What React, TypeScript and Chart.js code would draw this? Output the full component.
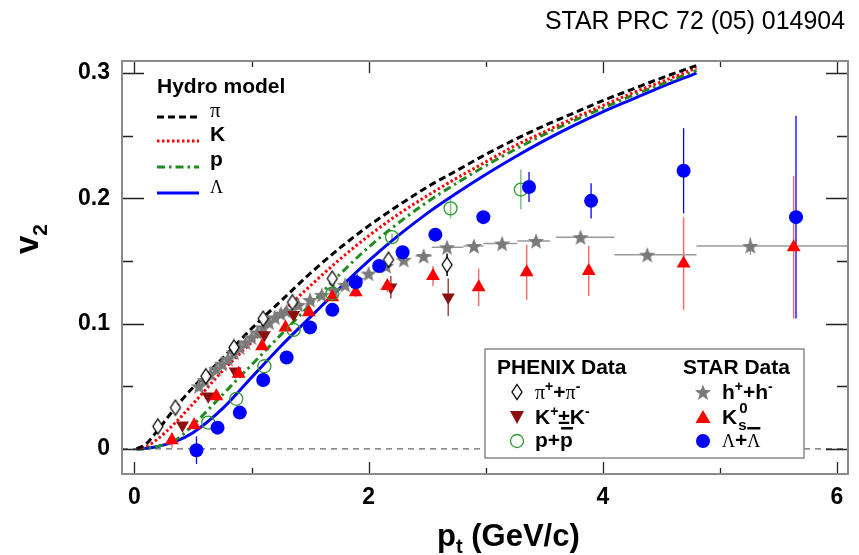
import { useEffect, useRef } from "react";
import { Chart, registerables } from "chart.js";
Chart.register(...registerables);

// ---------------- data ----------------
const hydroPt = [0.02, 0.1, 0.2, 0.35, 0.5, 0.75, 1.0, 1.25, 1.5, 1.75, 2.0, 2.25, 2.5, 2.75, 3.0, 3.25, 3.5, 3.75, 4.0, 4.25, 4.5, 4.8];
const hydroPi = [0, 0.004, 0.015, 0.033, 0.049, 0.072, 0.096, 0.118, 0.140, 0.160, 0.178, 0.194, 0.209, 0.222, 0.235, 0.247, 0.258, 0.268, 0.278, 0.287, 0.296, 0.306];
const hydroK = [0, 0.002, 0.008, 0.021, 0.036, 0.062, 0.085, 0.108, 0.130, 0.151, 0.170, 0.187, 0.202, 0.216, 0.229, 0.242, 0.253, 0.264, 0.274, 0.284, 0.293, 0.304];
const hydroP = [0, 0.0005, 0.002, 0.007, 0.019, 0.043, 0.067, 0.091, 0.115, 0.139, 0.161, 0.180, 0.197, 0.212, 0.226, 0.239, 0.251, 0.262, 0.272, 0.282, 0.291, 0.302];
const hydroL = [0, 0.0005, 0.002, 0.006, 0.013, 0.032, 0.057, 0.082, 0.105, 0.128, 0.150, 0.170, 0.188, 0.204, 0.219, 0.233, 0.246, 0.258, 0.269, 0.279, 0.289, 0.300];

const phenixPiPt = [0.20, 0.35, 0.61, 0.85, 1.10, 1.35, 1.69, 2.17, 2.67];
const phenixPiV2 = [0.018, 0.033, 0.058, 0.081, 0.104, 0.117, 0.136, 0.151, 0.147];
const phenixPiErr = [0, 0, 0, 0, 0, 0, 0.002, 0.004, 0.009];

const phenixKPt = [0.41, 0.63, 0.86, 1.11, 1.36, 2.19, 2.68];
const phenixKV2 = [0.019, 0.042, 0.062, 0.091, 0.107, 0.129, 0.121];
const phenixKErr = [0, 0, 0, 0, 0, 0.009, 0.015];

const phenixPPt = [0.63, 0.87, 1.11, 1.36, 1.69, 2.20, 2.70, 3.30];
const phenixPV2 = [0.021, 0.040, 0.066, 0.095, 0.124, 0.169, 0.192, 0.207];
const phenixPErr = [0, 0, 0, 0, 0, 0.003, 0.008, 0.016];

const starHPt = [0.55, 0.60, 0.65, 0.70, 0.75, 0.80, 0.85, 0.90, 0.95, 1.00, 1.05, 1.10, 1.15, 1.20, 1.25, 1.30, 1.40, 1.50, 1.60, 1.70, 1.80, 1.90, 2.00, 2.15, 2.30, 2.47, 2.67, 2.90, 3.14, 3.43, 3.81, 4.38, 5.26];
const starHV2 = [0.050, 0.055, 0.060, 0.064, 0.068, 0.072, 0.077, 0.081, 0.085, 0.089, 0.093, 0.097, 0.101, 0.105, 0.108, 0.110, 0.115, 0.119, 0.123, 0.127, 0.131, 0.135, 0.140, 0.146, 0.151, 0.154, 0.161, 0.162, 0.164, 0.166, 0.169, 0.155, 0.162];
const starHBinLo = [0.55, 0.60, 0.65, 0.70, 0.75, 0.80, 0.85, 0.90, 0.95, 1.00, 1.05, 1.10, 1.15, 1.20, 1.25, 1.30, 1.40, 1.50, 1.60, 1.70, 1.80, 1.90, 2.00, 2.15, 2.30, 2.40, 2.54, 2.81, 2.98, 3.27, 3.60, 4.10, 4.80];
const starHBinHi = [0.55, 0.60, 0.65, 0.70, 0.75, 0.80, 0.85, 0.90, 0.95, 1.00, 1.05, 1.10, 1.15, 1.20, 1.25, 1.30, 1.40, 1.50, 1.60, 1.70, 1.80, 1.90, 2.00, 2.15, 2.30, 2.54, 2.81, 2.98, 3.27, 3.55, 4.10, 4.80, 6.20];
const starHErr = [0, 0, 0, 0, 0, 0, 0, 0, 0, 0, 0, 0, 0, 0, 0, 0, 0, 0, 0, 0, 0, 0, 0, 0, 0, 0, 0, 0, 0, 0, 0, 0, 0.007];

const starK0Pt = [0.32, 0.51, 0.70, 0.89, 1.09, 1.29, 1.49, 1.69, 1.89, 2.16, 2.55, 2.94, 3.35, 3.88, 4.69, 5.63];
const starK0V2 = [0.007, 0.019, 0.042, 0.060, 0.082, 0.097, 0.109, 0.121, 0.125, 0.130, 0.138, 0.129, 0.141, 0.142, 0.148, 0.161];
const starK0Err = [0.006, 0.003, 0.003, 0.003, 0.003, 0.003, 0.003, 0.003, 0.004, 0.005, 0.008, 0.015, 0.022, 0.020, 0.037, 0.057];

const starLPt = [0.53, 0.71, 0.90, 1.10, 1.30, 1.50, 1.69, 1.89, 2.09, 2.29, 2.57, 2.98, 3.37, 3.90, 4.69, 5.65];
const starLV2 = [-0.001, 0.017, 0.029, 0.055, 0.073, 0.097, 0.111, 0.133, 0.146, 0.157, 0.171, 0.185, 0.209, 0.198, 0.222, 0.185];
const starLErr = [0.011, 0.003, 0.003, 0.003, 0.003, 0.003, 0.003, 0.003, 0.003, 0.003, 0.003, 0.004, 0.012, 0.014, 0.034, 0.081];

const xMajorTicks = [0, 2, 4, 6];
const xMinorTicks = [1, 3, 5];
const yMajorTicks = [0, 0.1, 0.2, 0.3];
const yMinorTicks = [0.05, 0.15, 0.25];
const zeroLine = [-0.106, 6.094];

// ---------------- markers ----------------
function starPath(ctx: CanvasRenderingContext2D, cx: number, cy: number, ro: number, ri: number) {
  ctx.beginPath();
  for (let i = 0; i < 10; i++) {
    const r = i % 2 === 0 ? ro : ri;
    const a = -Math.PI / 2 + (i * Math.PI) / 5;
    const px = cx + r * Math.cos(a);
    const py = cy + r * Math.sin(a);
    if (i === 0) ctx.moveTo(px, py);
    else ctx.lineTo(px, py);
  }
  ctx.closePath();
}
function makeStar(): HTMLCanvasElement {
  const c = document.createElement("canvas");
  c.width = 18; c.height = 18;
  const g = c.getContext("2d")!;
  starPath(g, 9, 9.8, 8.5, 3.6);
  g.fillStyle = "#7a7a7a";
  g.fill();
  return c;
}
function diamondPath(ctx: CanvasRenderingContext2D, cx: number, cy: number, hw: number, hh: number) {
  ctx.beginPath();
  ctx.moveTo(cx, cy - hh);
  ctx.lineTo(cx + hw, cy);
  ctx.lineTo(cx, cy + hh);
  ctx.lineTo(cx - hw, cy);
  ctx.closePath();
}
function makeDiamond(): HTMLCanvasElement {
  const c = document.createElement("canvas");
  c.width = 14; c.height = 18;
  const g = c.getContext("2d")!;
  diamondPath(g, 7, 9, 5, 7.5);
  g.fillStyle = "#ffffff";
  g.fill();
  g.strokeStyle = "#000000";
  g.lineWidth = 1.3;
  g.stroke();
  return c;
}

const SANS = '"Liberation Sans", Arial, Helvetica, sans-serif';
const SERIF = '"Liberation Serif", "DejaVu Serif", "Times New Roman", serif';

function pts(xs: number[], ys: number[]) {
  return xs.map((x, i) => ({ x, y: ys[i] }));
}

type Part = [string, string, number];
function rich(ctx: CanvasRenderingContext2D, x: number, y: number, parts: Part[]) {
  let cx = x;
  for (const [t, f, dy] of parts) {
    ctx.font = f;
    ctx.fillText(t, cx, y + dy);
    cx += ctx.measureText(t).width;
  }
  return cx;
}

const errorBarPlugin = {
  id: "errbars",
  beforeDatasetsDraw(chart: any) {
    const { ctx, chartArea } = chart;
    const xs = chart.scales.x;
    const ys = chart.scales.y;
    ctx.save();
    ctx.beginPath();
    ctx.rect(chartArea.left, chartArea.top, chartArea.right - chartArea.left, chartArea.bottom - chartArea.top);
    ctx.clip();
    chart.data.datasets.forEach((ds: any) => {
      if (!ds.errY && !ds.xLo) return;
      ctx.strokeStyle = ds.errColor || "#000";
      ctx.lineWidth = ds.errWidth || 1.5;
      ds.data.forEach((p: any, i: number) => {
        const px = xs.getPixelForValue(p.x);
        const py = ys.getPixelForValue(p.y);
        ctx.beginPath();
        if (ds.errY && ds.errY[i] > 0) {
          ctx.moveTo(px, ys.getPixelForValue(p.y - ds.errY[i]));
          ctx.lineTo(px, ys.getPixelForValue(p.y + ds.errY[i]));
        }
        if (ds.xLo && ds.xHi[i] > ds.xLo[i]) {
          ctx.moveTo(xs.getPixelForValue(ds.xLo[i]), py);
          ctx.lineTo(xs.getPixelForValue(ds.xHi[i]), py);
        }
        ctx.stroke();
      });
    });
    ctx.restore();
  },
};

const framePlugin = {
  id: "frame",
  afterDraw(chart: any) {
    const { ctx, chartArea } = chart;
    const xs = chart.scales.x;
    const ys = chart.scales.y;
    const L = chartArea.left, R = chartArea.right, T = chartArea.top, B = chartArea.bottom;
    ctx.save();
    // ticks
    ctx.strokeStyle = "#222";
    ctx.lineWidth = 1.3;
    ctx.beginPath();
    xMajorTicks.forEach((v) => {
      const px = Math.round(xs.getPixelForValue(v)) + 0.5;
      ctx.moveTo(px, B); ctx.lineTo(px, B - 12);
      ctx.moveTo(px, T); ctx.lineTo(px, T + 12);
    });
    xMinorTicks.forEach((v) => {
      const px = Math.round(xs.getPixelForValue(v)) + 0.5;
      ctx.moveTo(px, B); ctx.lineTo(px, B - 6);
      ctx.moveTo(px, T); ctx.lineTo(px, T + 6);
    });
    yMajorTicks.forEach((v) => {
      const py = Math.round(ys.getPixelForValue(v)) + 0.5;
      ctx.moveTo(L, py); ctx.lineTo(L + 22, py);
      ctx.moveTo(R, py); ctx.lineTo(R - 22, py);
    });
    yMinorTicks.forEach((v) => {
      const py = Math.round(ys.getPixelForValue(v)) + 0.5;
      ctx.moveTo(L, py); ctx.lineTo(L + 11, py);
      ctx.moveTo(R, py); ctx.lineTo(R - 11, py);
    });
    ctx.stroke();
    // frame
    ctx.strokeStyle = "#8a8a8a";
    ctx.lineWidth = 2;
    ctx.strokeRect(L, T, R - L, B - T);

    ctx.fillStyle = "#000";
    ctx.textBaseline = "alphabetic";
    ctx.textAlign = "left";

    // top right reference
    ctx.font = `25px ${SANS}`;
    ctx.textAlign = "right";
    ctx.fillText("STAR PRC 72 (05) 014904", 845, 29, 300);
    ctx.textAlign = "left";

    // axis titles
    rich(ctx, 437, 546, [["p", `bold 31px ${SANS}`, 0], ["t", `bold 20px ${SANS}`, 7], [" (GeV/c)", `bold 31px ${SANS}`, 0]]);
    ctx.save();
    ctx.translate(38, 254);
    ctx.rotate(-Math.PI / 2);
    rich(ctx, 0, 0, [["v", `bold 33px ${SANS}`, 0], ["2", `bold 21px ${SANS}`, 9]]);
    ctx.restore();

    // hydro legend
    ctx.font = `bold 21px ${SANS}`;
    ctx.fillText("Hydro model", 157, 93);
    const hx0 = 157, hx1 = 199;
    const hydroRows: { y: number; color: string; dash: number[]; w: number; label: Part[] }[] = [
      { y: 117, color: "#000", dash: [7, 4], w: 3, label: [["\u03c0", `21px ${SERIF}`, 0]] },
      { y: 141, color: "#ff0000", dash: [2.5, 2.5], w: 3, label: [["K", `bold 21px ${SANS}`, 0]] },
      { y: 167, color: "#1e8c1e", dash: [8, 4, 2.5, 4], w: 3, label: [["p", `bold 21px ${SANS}`, -1]] },
      { y: 193, color: "#0000ff", dash: [], w: 3, label: [["\u039b", `18px ${SERIF}`, 0]] },
    ];
    hydroRows.forEach((r) => {
      ctx.save();
      ctx.strokeStyle = r.color;
      ctx.lineWidth = r.w;
      ctx.setLineDash(r.dash);
      ctx.beginPath();
      ctx.moveTo(hx0, r.y); ctx.lineTo(hx1, r.y);
      ctx.stroke();
      ctx.restore();
      ctx.fillStyle = "#000";
      rich(ctx, 210, r.y, r.label);
    });

    // data legend box
    ctx.fillStyle = "#fff";
    ctx.fillRect(485, 349, 319, 109);
    ctx.strokeStyle = "#8a8a8a";
    ctx.lineWidth = 1.5;
    ctx.strokeRect(485, 349, 319, 109);
    ctx.fillStyle = "#000";
    ctx.font = `bold 21px ${SANS}`;
    ctx.fillText("PHENIX Data", 497, 374);
    ctx.fillText("STAR Data", 683, 374);

    const B21 = `bold 21px ${SANS}`;
    const B13 = `bold 14px ${SANS}`;
    const S20 = `20px ${SERIF}`;
    const S18 = `18px ${SERIF}`;
    const r1 = 399, r2 = 424, r3 = 448;
    // diamond
    diamondPath(ctx, 517, 392, 5, 7.5);
    ctx.strokeStyle = "#000"; ctx.lineWidth = 1.3; ctx.stroke();
    ctx.fillStyle = "#000";
    rich(ctx, 535, r1, [["\u03c0", S20, 0], ["+", B13, -8], ["+", B21, 0], ["\u03c0", S20, 0], ["-", B13, -8]]);
    // down triangle
    ctx.beginPath();
    ctx.moveTo(510, 411); ctx.lineTo(524, 411); ctx.lineTo(517, 424); ctx.closePath();
    ctx.fillStyle = "#8b1010"; ctx.fill();
    ctx.fillStyle = "#000";
    rich(ctx, 535, r2, [["K", B21, 0], ["+", B13, -8], ["\u00b1", B21, 0], ["K", B21, 0], ["-", B13, -8]]);
    // open circle
    ctx.beginPath(); ctx.arc(517, 441, 6.5, 0, Math.PI * 2);
    ctx.strokeStyle = "#2e9a2e"; ctx.lineWidth = 1.3; ctx.stroke();
    ctx.fillStyle = "#000";
    let e = rich(ctx, 535, r3 - 1, [["p", B21, 0], ["+", B21, 0]]);
    const pbStart = e;
    e = rich(ctx, e, r3 - 1, [["p", B21, 0]]);
    ctx.fillRect(pbStart + 1, 427, e - pbStart - 1, 2.5);
    // star
    starPath(ctx, 703, 393, 8.5, 3.6);
    ctx.fillStyle = "#7a7a7a"; ctx.fill();
    ctx.fillStyle = "#000";
    rich(ctx, 722, r1, [["h", B21, 0], ["+", B13, -8], ["+", B21, 0], ["h", B21, 0], ["-", B13, -8]]);
    // up triangle
    ctx.beginPath();
    ctx.moveTo(703, 410); ctx.lineTo(710.5, 423); ctx.lineTo(695.5, 423); ctx.closePath();
    ctx.fillStyle = "#ff0000"; ctx.fill();
    ctx.fillStyle = "#000";
    e = rich(ctx, 722, r2, [["K", B21, 0]]);
    ctx.font = `bold 15px ${SANS}`;
    ctx.fillText("0", e + 2, r2 - 11);
    ctx.fillText("s", e + 1, r2 + 6);
    // filled circle
    ctx.beginPath(); ctx.arc(703, 441, 7, 0, Math.PI * 2);
    ctx.fillStyle = "#0000ff"; ctx.fill();
    ctx.fillStyle = "#000";
    e = rich(ctx, 722, r3 - 1, [["\u039b", S18, 0], ["+", B21, 0]]);
    const lbStart = e;
    e = rich(ctx, e, r3 - 1, [["\u039b", S18, 0]]);
    ctx.fillRect(lbStart, 427, e - lbStart, 2.5);

    ctx.restore();
  },
};

export default function App() {
  const ref = useRef<HTMLCanvasElement>(null);
  useEffect(() => {
    const starImg = makeStar();
    const diamondImg = makeDiamond();
    const curve = (ys: number[], color: string, dash: number[], order: number) => ({
      type: "line" as const,
      data: pts(hydroPt, ys),
      borderColor: color,
      borderWidth: 3,
      borderDash: dash,
      pointRadius: 0,
      showLine: true,
      fill: false,
      cubicInterpolationMode: "monotone" as const,
      order,
    });
    const chart = new Chart(ref.current!, {
      type: "scatter",
      data: {
        datasets: [
          {
            type: "line",
            data: zeroLine.map((x) => ({ x, y: 0 })),
            borderColor: "#666",
            borderWidth: 1.3,
            borderDash: [6, 5],
            pointRadius: 0,
            showLine: true,
            order: 20,
          } as any,
          curve(hydroPi, "#000000", [7, 4], 10) as any,
          curve(hydroK, "#ff0000", [2.5, 2.5], 11) as any,
          curve(hydroP, "#1e8c1e", [8, 4, 2.5, 4], 12) as any,
          curve(hydroL, "#0000ff", [], 13) as any,
          {
            data: pts(starHPt, starHV2),
            pointStyle: starImg,
            pointRadius: 9,
            errY: starHErr,
            xLo: starHBinLo,
            xHi: starHBinHi,
            errColor: "#9a9a9a",
            order: 6,
          } as any,
          {
            data: pts(phenixPiPt, phenixPiV2),
            pointStyle: diamondImg,
            pointRadius: 8,
            errY: phenixPiErr,
            errColor: "#000",
            order: 5,
          } as any,
          {
            data: pts(phenixKPt, phenixKV2),
            pointStyle: "triangle",
            rotation: 180,
            pointRadius: 7.5,
            backgroundColor: "#8b1010",
            borderWidth: 0,
            errY: phenixKErr,
            errColor: "#a04848",
            order: 4,
          } as any,
          {
            data: pts(starK0Pt, starK0V2),
            pointStyle: "triangle",
            pointRadius: 8,
            backgroundColor: "#ff0000",
            borderWidth: 0,
            errY: starK0Err,
            errColor: "#f07070",
            order: 3,
          } as any,
          {
            data: pts(phenixPPt, phenixPV2),
            pointStyle: "circle",
            pointRadius: 6.5,
            backgroundColor: "rgba(255,255,255,0)",
            borderColor: "#2e9a2e",
            borderWidth: 1.3,
            errY: phenixPErr,
            errColor: "#7cc47c",
            order: 2,
          } as any,
          {
            data: pts(starLPt, starLV2),
            pointStyle: "circle",
            pointRadius: 7,
            backgroundColor: "#0000ff",
            borderWidth: 0,
            errY: starLErr,
            errColor: "#0000ff",
            errWidth: 1.3,
            order: 1,
          } as any,
        ],
      },
      options: {
        responsive: false,
        animation: false,
        devicePixelRatio: 1,
        layout: { padding: { left: 0, right: 11, top: 61, bottom: 0 } },
        plugins: { legend: { display: false }, tooltip: { enabled: false } },
        scales: {
          x: {
            type: "linear",
            min: -0.106,
            max: 6.094,
            grid: { display: false },
            border: { display: false },
            afterBuildTicks: (s: any) => { s.ticks = xMajorTicks.map((v) => ({ value: v })); },
            afterFit: (s: any) => { s.height = 81; },
            ticks: {
              font: { family: SANS, size: 23, weight: "bold" },
              color: "#000",
              padding: 2,
              maxRotation: 0,
              callback: (v: any) => String(v),
            },
          },
          y: {
            type: "linear",
            min: -0.02,
            max: 0.3096,
            grid: { display: false },
            border: { display: false },
            afterBuildTicks: (s: any) => { s.ticks = yMajorTicks.map((v) => ({ value: v })); },
            afterFit: (s: any) => { s.width = 122; },
            ticks: {
              font: { family: SANS, size: 23, weight: "bold" },
              color: "#000",
              padding: 4,
              callback: (v: any) => (v === 0 ? "0" : Number(v).toFixed(1)),
            },
          },
        },
      } as any,
      plugins: [errorBarPlugin, framePlugin],
    });
    return () => chart.destroy();
  }, []);
  return (
    <div style={{ position: "absolute", left: 0, top: 0, width: 859, height: 555, background: "#fff" }}>
      <canvas ref={ref} width={859} height={555} style={{ display: "block", width: 859, height: 555 }} />
    </div>
  );
}
